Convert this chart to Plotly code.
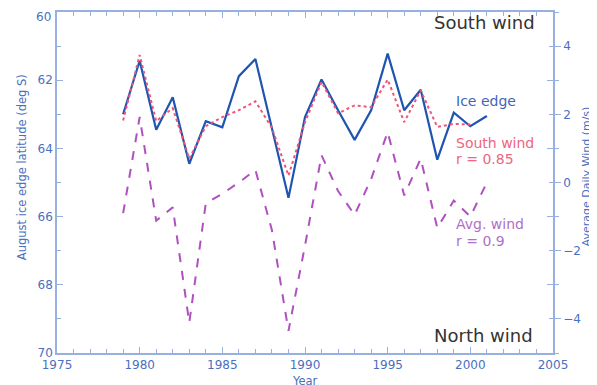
import plotly.graph_objects as go

years = list(range(1979, 2002))
ice_edge = [63.0, 61.43, 63.45, 62.5, 64.45, 63.2, 63.38, 61.88, 61.38, 63.45, 65.45,
            63.08, 61.98, 62.88, 63.75, 62.88, 61.22, 62.88, 62.28, 64.33, 62.95, 63.35, 63.05]
south_years = list(range(1979, 2001))
south_wind = [1.82, 3.74, 1.8, 2.18, 0.7, 1.65, 1.92, 2.12, 2.38, 1.6, 0.2,
              1.77, 2.95, 2.03, 2.26, 2.21, 3.02, 1.77, 2.7, 1.63, 1.72, 1.7]
avg_wind = [-0.9, 1.92, -1.12, -0.73, -4.11, -0.61, -0.33, 0.0, 0.37, -1.4, -4.35,
            -1.85, 0.8, -0.25, -0.95, 0.1, 1.48, -0.38, 0.7, -1.33, -0.53, -1.0, 0.0]
lat_ticks = [60, 62, 64, 66, 68, 70]
lat_labels = ["", "62", "64", "66", "68", "70"]  # "60" drawn separately so it is not clipped

axis_col = "#98b0e0"
tick_col = "#4a6fc0"
font = "DejaVu Sans"

fig = go.Figure()
fig.add_trace(go.Scatter(x=south_years, y=south_wind, yaxis="y2", mode="lines",
                         line=dict(color="#ee5577", width=2, dash="dot"), showlegend=False))
fig.add_trace(go.Scatter(x=years, y=avg_wind, yaxis="y2", mode="lines",
                         line=dict(color="#b050c0", width=2, dash="dash"), showlegend=False))
fig.add_trace(go.Scatter(x=years, y=ice_edge, mode="lines",
                         line=dict(color="#1f55b0", width=2.2), showlegend=False))

# page body has an 8px margin, so the figure is sized and offset accordingly
fig.update_layout(
    width=589, height=377,
    margin=dict(l=49, r=44, t=4, b=32),
    paper_bgcolor="white", plot_bgcolor="white",
    font=dict(family=font, color=tick_col, size=12),
    xaxis=dict(range=[1975, 2005], tickvals=[1975, 1980, 1985, 1990, 1995, 2000, 2005],
               ticks="inside", ticklen=6, tickcolor=axis_col, showline=True, linecolor=axis_col,
               linewidth=1.5, mirror="ticks", showgrid=False, zeroline=False,
               minor=dict(dtick=1, ticks="inside", ticklen=4, tickcolor=axis_col),
               tickfont=dict(size=12, color=tick_col), automargin=False,
               ticklabeloverflow="allow"),
    yaxis=dict(range=[70, 60], tickvals=lat_ticks, ticktext=lat_labels, ticks="inside", ticklen=6,
               tickcolor=axis_col, showline=True, linecolor=axis_col, linewidth=1.5,
               mirror="ticks", showgrid=False, zeroline=False,
               minor=dict(dtick=1, ticks="inside", ticklen=4, tickcolor=axis_col),
               tickfont=dict(size=12, color=tick_col), automargin=False,
               ticklabeloverflow="allow"),
    yaxis2=dict(range=[-5, 5], tickvals=[-4, -2, 0, 2, 4], overlaying="y", side="right",
                ticks="outside", ticklen=6, tickcolor=axis_col, showline=True, linecolor=axis_col,
                linewidth=1.5, showgrid=False, zeroline=False,
                minor=dict(dtick=1, ticks="outside", ticklen=4, tickcolor=axis_col),
                tickfont=dict(size=12, color=tick_col), automargin=False,
                ticklabeloverflow="allow"),
)

def note(text, x, y, color, size, xanchor="left", angle=0):
    fig.add_annotation(text=text, x=x, y=y, xref="paper", yref="paper", showarrow=False,
                       xanchor=xanchor, yanchor="middle", textangle=angle,
                       font=dict(family=font, size=size, color=color))

note("South wind", 0.968, 0.968, "#333333", 18, "right")
note("North wind", 0.964, 0.05, "#333333", 18, "right")
note("Ice edge", 0.80, 0.739, "#3f66bb", 14)
note("South wind", 0.80, 0.616, "#ee6680", 14)
note("r = 0.85", 0.80, 0.569, "#ee6680", 14)
note("Avg. wind", 0.80, 0.378, "#b070c8", 14)
note("r = 0.9", 0.80, 0.328, "#b070c8", 14)

# top latitude tick label, nudged down to stay inside the page
fig.add_annotation(text=str(lat_ticks[0]), x=-0.008, y=0.986, xref="paper", yref="paper",
                   showarrow=False, xanchor="right", yanchor="middle",
                   font=dict(family=font, size=12, color=tick_col))

# axis titles
note("August ice edge latitude (deg S)", -0.0706, 0.545, tick_col, 11.5, "center", -90)
note("Average Daily Wind (m/s)", 1.0675, 0.519, tick_col, 11, "center", -90)
note("Year", 0.5, -0.082, tick_col, 11.5, "center")

fig.write_html("out.html")
